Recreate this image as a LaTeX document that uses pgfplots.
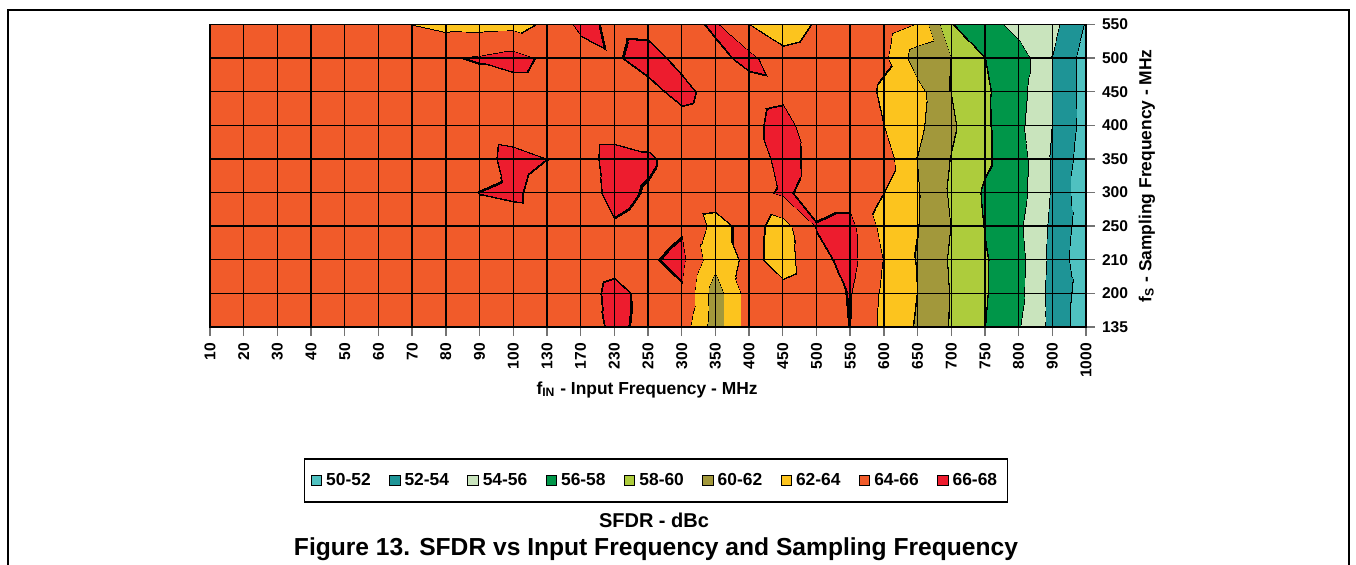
\documentclass[border=0pt]{standalone}
\usepackage{pgfplots}
\pgfplotsset{compat=1.18}
\usepackage{fontspec}
\setmainfont{Liberation Sans}

\definecolor{band0}{RGB}{79,193,192}
\definecolor{band1}{RGB}{30,148,150}
\definecolor{band2}{RGB}{201,228,189}
\definecolor{band3}{RGB}{0,150,73}
\definecolor{band4}{RGB}{173,204,60}
\definecolor{band5}{RGB}{162,152,59}
\definecolor{band6}{RGB}{252,196,30}
\definecolor{band7}{RGB}{241,91,42}
\definecolor{band8}{RGB}{237,28,46}

% piecewise constant colormap: steps of 1/14 dB, a black step on every 2 dB level
\def\sfdrspec{}
\foreach \k in {0,...,252}{%
  \pgfmathtruncatemacro{\bnd}{floor(\k/28)}%
  \pgfmathtruncatemacro{\rem}{mod(\k,28)}%
  \ifnum\rem=0
    \xdef\sfdrspec{\sfdrspec color=(black) }%
  \else
    \xdef\sfdrspec{\sfdrspec color=(band\bnd) }%
  \fi
}
\edef\tmp{\noexpand\pgfplotsset{colormap={sfdr}{\sfdrspec}}}\tmp

\begin{document}
\begin{tikzpicture}
\useasboundingbox (-105pt,-118.5pt) rectangle (573pt,163.5pt);
\begin{axis}[
    at={(0pt,0pt)}, anchor=south west,
    scale only axis, width=438pt, height=151.25pt,
    xmin=0, xmax=26, ymin=0, ymax=9,
    xtick={0,...,26}, ytick={0,...,9},
    xticklabels={10,20,30,40,50,60,70,80,90,100,130,170,230,250,300,350,400,450,500,550,600,650,700,750,800,900,1000},
    yticklabels={135,200,210,250,300,350,400,450,500,550},
    xtick pos=left, ytick pos=right, yticklabel pos=right,
    xticklabel style={rotate=90, anchor=east, font=\fontsize{7.8}{8}\bfseries},
    yticklabel style={anchor=west, font=\fontsize{7.8}{8}\bfseries},
    tick align=outside, major tick length=4.5pt,
    tick style={black!55, line width=0.7pt},
    grid=major, major grid style={black, line width=0.7pt},
    axis line style={black, line width=0.7pt},
    axis on top,
    colormap name=sfdr,
    colormap access=piecewise constant,
    point meta min=49.964286, point meta max=68.035714,
    xlabel={f\textsubscript{IN} - Input Frequency - MHz},
    ylabel={f\textsubscript{S} - Sampling Frequency - MHz},
    xlabel style={at={(axis description cs:0.4989,-0.208)}, anchor=center, font=\fontsize{8.7}{9}\bfseries},
    ylabel style={at={(axis description cs:1.0696,0.5)}, anchor=center, font=\fontsize{8.7}{9}\bfseries},
    legend columns=9,
    legend style={at={(axis description cs:0.5091,-0.5074)}, anchor=center,
        draw=black, line width=0.6pt, font=\fontsize{8.7}{9}\bfseries,
        inner xsep=3pt, inner ysep=5pt,
        /tikz/every even column/.append style={column sep=7.2pt}},
    legend image code/.code={\draw[#1, draw=black, line width=0.5pt] (0pt,-2.6pt) rectangle (5.2pt,2.6pt);},
]

% SFDR in dBc on the (fIN index, fS index) grid
\addplot[surf, shader=interp, colormap access=piecewise constant,
    point meta=explicit, mesh/cols=27, forget plot] coordinates {
(0,0)[65] (1,0)[65] (2,0)[65] (3,0)[65] (4,0)[65] (5,0)[65] (6,0)[65] (7,0)[65] (8,0)[65] (9,0)[65] (10,0)[65] (11,0)[65] (12,0)[66.4] (13,0)[65.5] (14,0)[65] (15,0)[61] (16,0)[65] (17,0)[65] (18,0)[65.2] (19,0)[66.02] (20,0)[63.43] (21,0)[61.75] (22,0)[59.83] (23,0)[58] (24,0)[56.1] (25,0)[53.41] (26,0)[50.8]
(0,1)[65] (1,1)[65] (2,1)[65] (3,1)[65] (4,1)[65] (5,1)[65] (6,1)[65] (7,1)[65] (8,1)[65] (9,1)[65] (10,1)[65] (11,1)[65.25] (12,1)[66.5] (13,1)[65.48] (14,1)[65.8] (15,1)[61] (16,1)[65] (17,1)[64.6] (18,1)[65.2] (19,1)[66.1] (20,1)[63.58] (21,1)[61.95] (22,1)[59.88] (23,1)[58.15] (24,1)[56.5] (25,1)[53.3] (26,1)[51.02]
(0,2)[65] (1,2)[65] (2,2)[65] (3,2)[65] (4,2)[65] (5,2)[65] (6,2)[65] (7,2)[65] (8,2)[65] (9,2)[65] (10,2)[65] (11,2)[65] (12,2)[65.4] (13,2)[65.8] (14,2)[66.4] (15,2)[62.6] (16,2)[64.6] (17,2)[63.2] (18,2)[65.4] (19,2)[66.6] (20,2)[63.89] (21,2)[61.84] (22,2)[59.75] (23,2)[58.15] (24,2)[56.6] (25,2)[53.47] (26,2)[50.53]
(0,3)[65] (1,3)[65] (2,3)[65] (3,3)[65] (4,3)[65] (5,3)[65] (6,3)[65] (7,3)[65] (8,3)[65] (9,3)[64.8] (10,3)[65] (11,3)[65] (12,3)[65.8] (13,3)[65.3] (14,3)[65.8] (15,3)[63.4] (16,3)[64.6] (17,3)[63.3] (18,3)[66.1] (19,3)[66.5] (20,3)[63.27] (21,3)[62.03] (22,3)[59.96] (23,3)[57.9] (24,3)[56.3] (25,3)[53.59] (26,3)[50.8]
(0,4)[65] (1,4)[65] (2,4)[65] (3,4)[65] (4,4)[65] (5,4)[65] (6,4)[65] (7,4)[65] (8,4)[66.05] (9,4)[66.4] (10,4)[65] (11,4)[65] (12,4)[66.6] (13,4)[65.8] (14,4)[65] (15,4)[64.8] (16,4)[65.2] (17,4)[66.3] (18,4)[65.3] (19,4)[65.3] (20,4)[63.98] (21,4)[62.1] (22,4)[59.71] (23,4)[57.74] (24,4)[56.7] (25,4)[53.8] (26,4)[50.47]
(0,5)[65] (1,5)[65] (2,5)[65] (3,5)[65] (4,5)[65] (5,5)[65] (6,5)[65] (7,5)[65] (8,5)[65.2] (9,5)[66.8] (10,5)[66] (11,5)[65.1] (12,5)[66.8] (13,5)[66.3] (14,5)[65.15] (15,5)[65] (16,5)[64.6] (17,5)[66.8] (18,5)[65.3] (19,5)[65.5] (20,5)[64.9] (21,5)[61.91] (22,5)[59.92] (23,5)[58.3] (24,5)[56.8] (25,5)[53.8] (26,5)[50.9]
(0,6)[65] (1,6)[65] (2,6)[65] (3,6)[65] (4,6)[65] (5,6)[65] (6,6)[65] (7,6)[65] (8,6)[65] (9,6)[64.6] (10,6)[65] (11,6)[65] (12,6)[65] (13,6)[65] (14,6)[65.3] (15,6)[65] (16,6)[65.4] (17,6)[66.8] (18,6)[64.6] (19,6)[65.5] (20,6)[63.98] (21,6)[62.4] (22,6)[60.3] (23,6)[58.3] (24,6)[56.4] (25,6)[53.98] (26,6)[51.2]
(0,7)[65] (1,7)[65] (2,7)[65] (3,7)[65] (4,7)[65] (5,7)[65] (6,7)[65] (7,7)[65] (8,7)[65] (9,7)[65] (10,7)[65] (11,7)[65] (12,7)[65.2] (13,7)[65.5] (14,7)[66.5] (15,7)[65.3] (16,7)[65.2] (17,7)[65.5] (18,7)[65] (19,7)[65.4] (20,7)[63.6] (21,7)[62.6] (22,7)[59.98] (23,7)[58.3] (24,7)[56.6] (25,7)[53.98] (26,7)[51.2]
(0,8)[65] (1,8)[65] (2,8)[65] (3,8)[65] (4,8)[65] (5,8)[65] (6,8)[65] (7,8)[65.8] (8,8)[66.2] (9,8)[66.7] (10,8)[65.6] (11,8)[65] (12,8)[65.8] (13,8)[66.6] (14,8)[65.5] (15,8)[65.5] (16,8)[66.5] (17,8)[64.6] (18,8)[65] (19,8)[65.5] (20,8)[64.4] (21,8)[60.9] (22,8)[59.98] (23,8)[58] (24,8)[57] (25,8)[53.98] (26,8)[51.14]
(0,9)[65] (1,9)[65] (2,9)[65] (3,9)[65] (4,9)[65] (5,9)[65] (6,9)[64.02] (7,9)[63.5] (8,9)[63.4] (9,9)[63.5] (10,9)[64.3] (11,9)[66.5] (12,9)[65.6] (13,9)[65.5] (14,9)[65.3] (15,9)[66.3] (16,9)[64.05] (17,9)[63] (18,9)[64.2] (19,9)[65] (20,9)[65] (21,9)[63.8] (22,9)[58.1] (23,9)[57] (24,9)[55.2] (25,9)[54.6] (26,9)[51.8]
};

\addlegendimage{fill=band0}\addlegendentry{50-52}
\addlegendimage{fill=band1}\addlegendentry{52-54}
\addlegendimage{fill=band2}\addlegendentry{54-56}
\addlegendimage{fill=band3}\addlegendentry{56-58}
\addlegendimage{fill=band4}\addlegendentry{58-60}
\addlegendimage{fill=band5}\addlegendentry{60-62}
\addlegendimage{fill=band6}\addlegendentry{62-64}
\addlegendimage{fill=band7}\addlegendentry{64-66}
\addlegendimage{fill=band8}\addlegendentry{66-68}
\end{axis}

\node[font=\fontsize{10}{12}\bfseries] at (222pt,-96.5pt) {SFDR - dBc};
\node[font=\fontsize{12.3}{14}\bfseries] at (223pt,-111pt) {Figure 13. SFDR vs Input Frequency and Sampling Frequency};
\draw[line width=0.9pt] (-101pt,-120pt) -- (-101pt,158.5pt) -- (569.5pt,158.5pt) -- (569.5pt,-120pt);
\end{tikzpicture}
\end{document}
